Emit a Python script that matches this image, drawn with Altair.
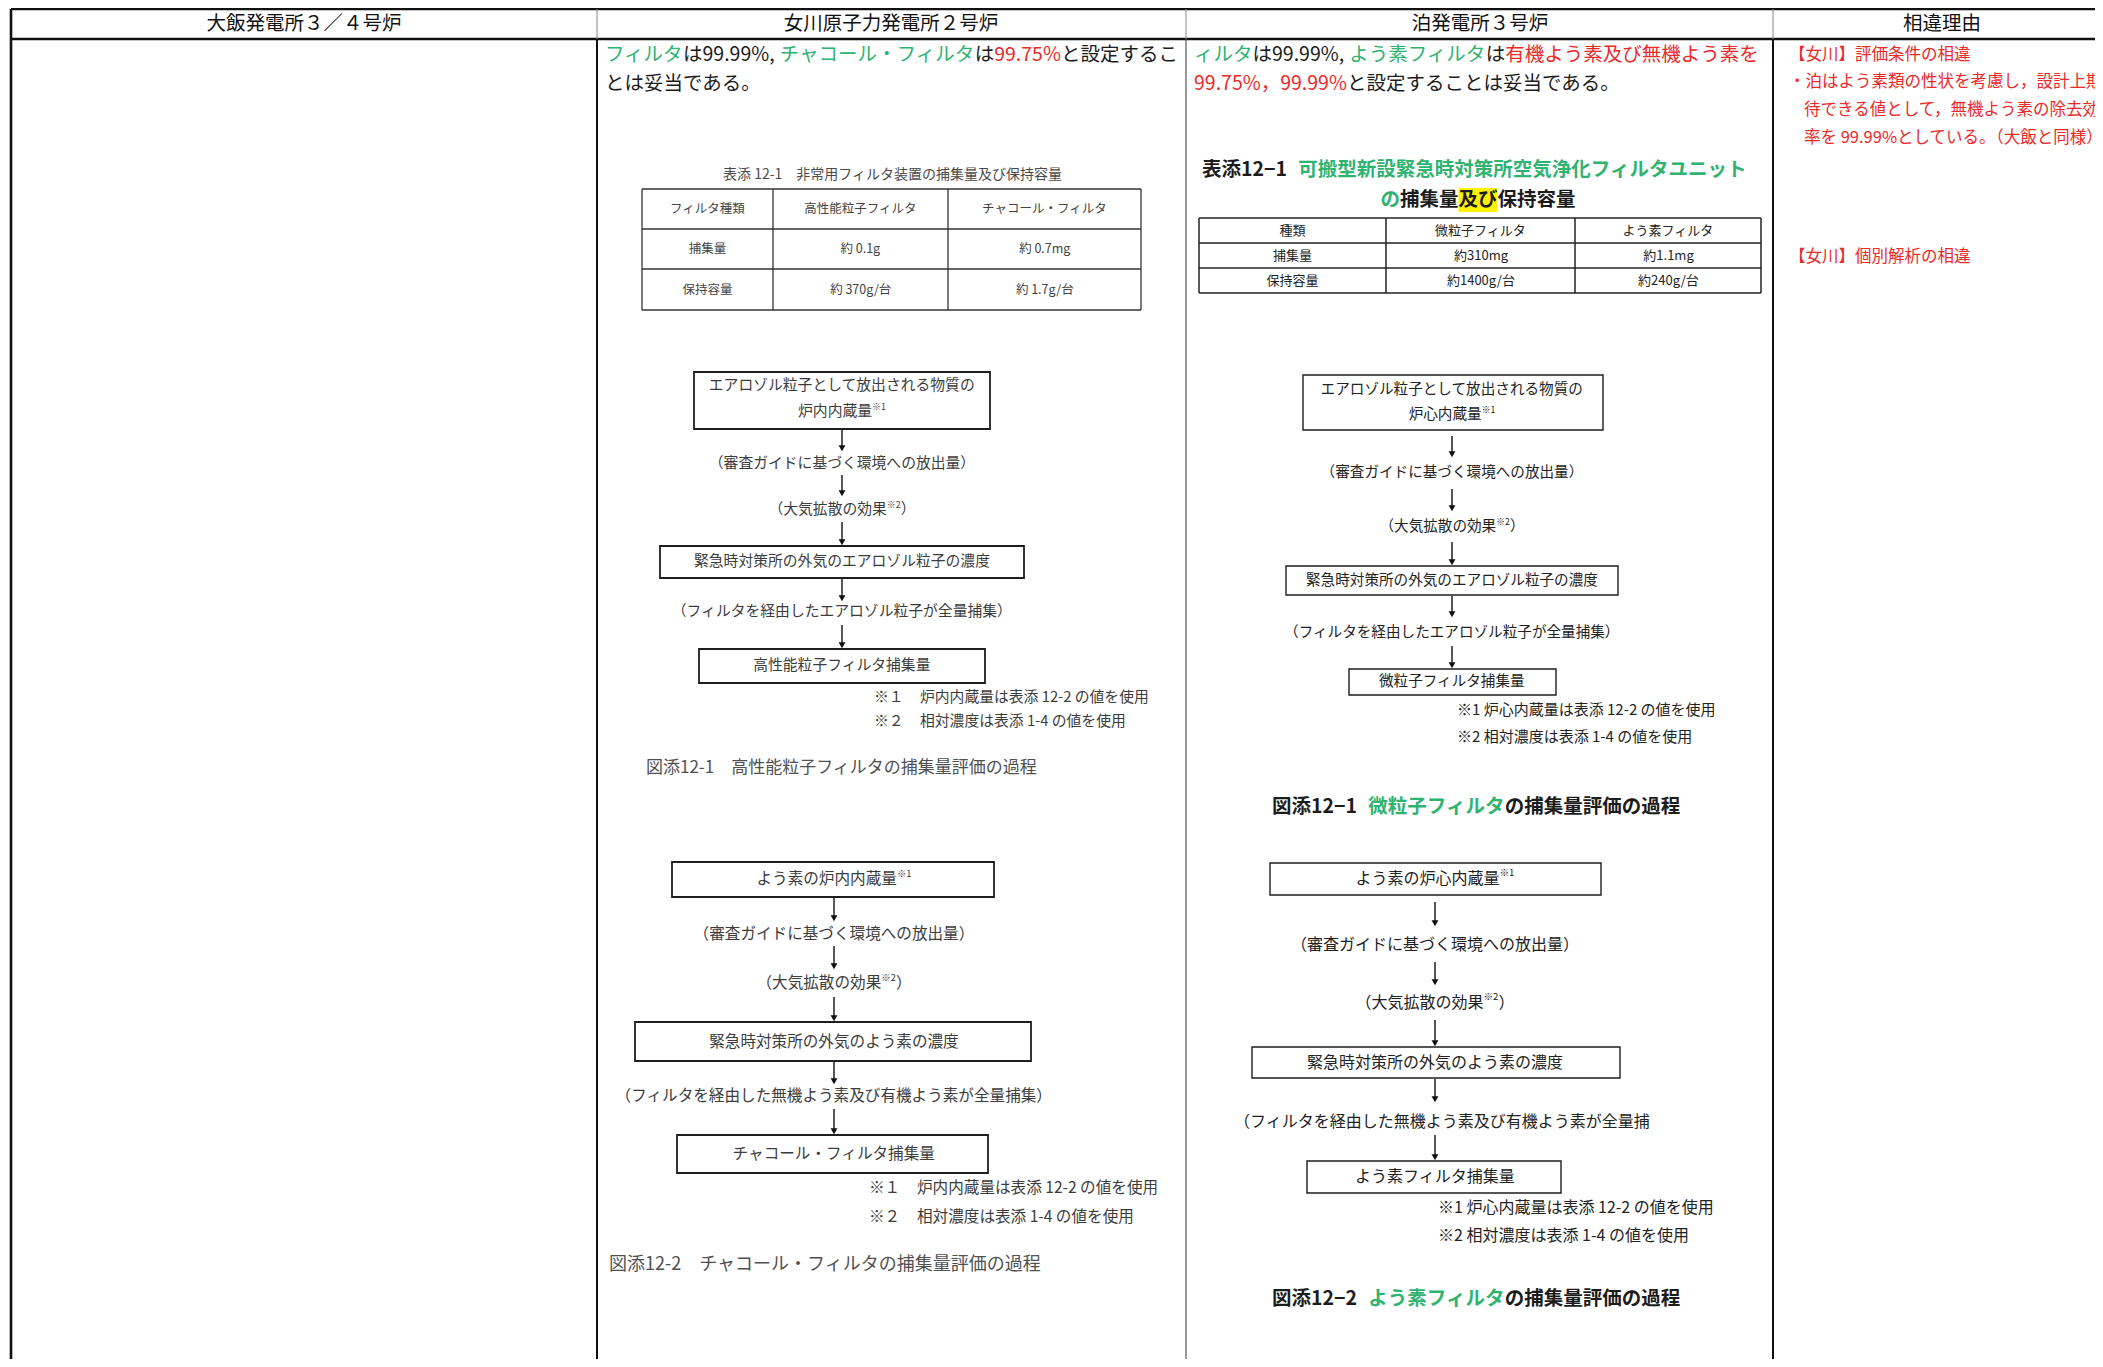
import altair as alt
import pandas as pd

# ---------------- text content ----------------
HEADERS = ["大飯発電所３／４号炉", "女川原子力発電所２号炉", "泊発電所３号炉", "相違理由"]

ONAGAWA_LINE1 = [("フィルタ", "g"), ("は99.99%, ", "k"), ("チャコール・フィルタ", "g"),
                 ("は", "k"), ("99.75%", "r"), ("と設定するこ", "k")]
ONAGAWA_LINE2 = [("とは妥当である。", "k")]
TOMARI_LINE1 = [("ィルタ", "g"), ("は99.99%, ", "k"), ("よう素フィルタ", "g"), ("は", "k"),
                ("有機よう素及び無機よう素を", "r")]
TOMARI_LINE2 = [("99.75%，99.99%", "r"), ("と設定することは妥当である。", "k")]

REASONS = ["【女川】評価条件の相違",
           "・泊はよう素類の性状を考慮し，設計上期",
           "待できる値として，無機よう素の除去効",
           "率を 99.99%としている。（大飯と同様）",
           "【女川】個別解析の相違"]

ONAGAWA_TABLE_TITLE = "表添 12-1　非常用フィルタ装置の捕集量及び保持容量"
ONAGAWA_TABLE = [["フィルタ種類", "高性能粒子フィルタ", "チャコール・フィルタ"],
                 ["捕集量", "約 0.1g", "約 0.7mg"],
                 ["保持容量", "約 370g/台", "約 1.7g/台"]]
TOMARI_TABLE_TITLE1 = [("表添12−1 ", "k"), ("可搬型新設緊急時対策所空気浄化フィルタユニット", "g")]
TOMARI_TABLE_TITLE2 = [("の", "g"), ("捕集量", "k"), ("及び", "k"), ("保持容量", "k")]
TOMARI_TABLE = [["種類", "微粒子フィルタ", "よう素フィルタ"],
                ["捕集量", "約310mg", "約1.1mg"],
                ["保持容量", "約1400g/台", "約240g/台"]]

FLOW_ON1 = [["エアロゾル粒子として放出される物質の", "炉内内蔵量"],
            "（審査ガイドに基づく環境への放出量）", "（大気拡散の効果",
            "緊急時対策所の外気のエアロゾル粒子の濃度",
            "（フィルタを経由したエアロゾル粒子が全量捕集）", "高性能粒子フィルタ捕集量"]
FLOW_ON2 = [["よう素の炉内内蔵量"],
            "（審査ガイドに基づく環境への放出量）", "（大気拡散の効果",
            "緊急時対策所の外気のよう素の濃度",
            "（フィルタを経由した無機よう素及び有機よう素が全量捕集）", "チャコール・フィルタ捕集量"]
FLOW_TO1 = [["エアロゾル粒子として放出される物質の", "炉心内蔵量"],
            "（審査ガイドに基づく環境への放出量）", "（大気拡散の効果",
            "緊急時対策所の外気のエアロゾル粒子の濃度",
            "（フィルタを経由したエアロゾル粒子が全量捕集）", "微粒子フィルタ捕集量"]
FLOW_TO2 = [["よう素の炉心内蔵量"],
            "（審査ガイドに基づく環境への放出量）", "（大気拡散の効果",
            "緊急時対策所の外気のよう素の濃度",
            "（フィルタを経由した無機よう素及び有機よう素が全量捕", "よう素フィルタ捕集量"]

ONAGAWA_NOTES = [("※１", "炉内内蔵量は表添 12-2 の値を使用"), ("※２", "相対濃度は表添 1-4 の値を使用")]
TOMARI_NOTES = ["※1 炉心内蔵量は表添 12-2 の値を使用", "※2 相対濃度は表添 1-4 の値を使用"]

ONAGAWA_FIG1 = "図添12-1　高性能粒子フィルタの捕集量評価の過程"
ONAGAWA_FIG2 = "図添12-2　チャコール・フィルタの捕集量評価の過程"
TOMARI_FIG1 = [("図添12−1 ", "k"), ("微粒子フィルタ", "g"), ("の捕集量評価の過程", "k")]
TOMARI_FIG2 = [("図添12−2 ", "k"), ("よう素フィルタ", "g"), ("の捕集量評価の過程", "k")]

# ---------------- styles ----------------
FONT = "Noto Sans CJK JP"
COL = {"g": "#2fb371", "r": "#ec2a2a", "k": "#1c1c1c"}
GRAY = "#3c3c3c"
RED = "#ec2a2a"

# ---------------- layout helpers ----------------
NARROW = {" ": 0.26, ".": 0.28, ",": 0.28, "%": 0.9, "-": 0.34, "/": 0.37, "m": 0.85, "g": 0.55}


def cw(ch):
    if ord(ch) < 128:
        return NARROW.get(ch, 0.56)
    return 1.0


def tw(s, size):
    return sum(cw(c) for c in s) * size


texts = []
rules = []
boxes = []
heads = []


def rich(segs, y, x=None, cx=None, weight="normal"):
    widths = [tw(t, s) for (t, c, s, dy) in segs]
    cur = x if x is not None else cx - sum(widths) / 2
    out = []
    for (t, c, s, dy), w in zip(segs, widths):
        texts.append(dict(x=cur, y=y + dy, t=t, c=c, s=s, w=weight))
        out.append((cur, w))
        cur += w
    return out


def rule(x, y, x2, y2, w, c):
    rules.append(dict(x=x, y=y, x2=x2, y2=y2, sw=w, c=c))


# ---------------- frame ----------------
rule(11, 9, 2095, 9, 2.6, "#111")
rule(11, 39, 2095, 39, 2.6, "#111")
rule(11, 9, 11, 1359, 2.6, "#111")
for sx in [597, 1186, 1773]:
    rule(sx, 9, sx, 39, 1.0, "#8a8a8a")
rule(597, 39, 597, 1359, 2.0, "#111")
rule(1186, 39, 1186, 1359, 1.2, "#555")
rule(1773, 39, 1773, 1359, 2.0, "#111")

for h, hx in zip(HEADERS, [304, 891, 1480, 1942]):
    rich([(h, "#111", 19.5, 0)], y=24, cx=hx)

# ---------------- body text ----------------
rich([(t, COL[c], 19.5, 0) for t, c in ONAGAWA_LINE1], y=55, x=605)
rich([(t, COL[c], 19.5, 0) for t, c in ONAGAWA_LINE2], y=84, x=605)
rich([(t, COL[c], 19.5, 0) for t, c in TOMARI_LINE1], y=55, x=1194)
rich([(t, COL[c], 19.5, 0) for t, c in TOMARI_LINE2], y=84, x=1194)

for line, (lx, ly) in zip(REASONS, [(1789, 55), (1789, 82), (1804, 110), (1804, 138), (1789, 257)]):
    rich([(line, RED, 16.5, 0)], y=ly, x=lx)

# ---------------- tables ----------------
def table(rows, xs, ys, size, color, lw, lc):
    for xx in xs:
        rule(xx, ys[0], xx, ys[-1], lw, lc)
    for yy in ys:
        rule(xs[0], yy, xs[-1], yy, lw, lc)
    for i, row in enumerate(rows):
        for j, cell in enumerate(row):
            rich([(cell, color, size, 0)], y=(ys[i] + ys[i + 1]) / 2, cx=(xs[j] + xs[j + 1]) / 2)


rich([(ONAGAWA_TABLE_TITLE, "#4a4a4a", 14, 0)], y=175, cx=893)
table(ONAGAWA_TABLE, [642, 773, 948, 1141], [189, 229, 269, 310], 12.5, "#444", 1.3, "#333")

rich([(t, COL[c], 19.5, 0) for t, c in TOMARI_TABLE_TITLE1], y=170, x=1202, weight="bold")
seg = rich([(t, COL[c], 19.5, 0) for t, c in TOMARI_TABLE_TITLE2], y=200, cx=1478, weight="bold")
heads.append(dict(x=seg[2][0], x2=seg[2][0] + seg[2][1], y=188, y2=212))
table(TOMARI_TABLE, [1199, 1386, 1575, 1761], [218, 243, 268, 293], 13, "#222", 1.5, "#222")

# ---------------- flowcharts ----------------
def flow(content, L, size, color, bw):
    b1, s1, s2, b2, s3, b3 = content
    cx = L["cx"]
    for key in ["box1", "box2", "box3"]:
        x0, x1, y0, y1 = L[key]
        boxes.append(dict(x=x0, x2=x1, y=y0, y2=y1, sw=bw))
    sup = size * 0.6
    for i, line in enumerate(b1):
        segs = [(line, color, size, 0)]
        if i == len(b1) - 1:
            segs.append(("※1", color, sup, -size * 0.35))
        rich(segs, y=L["b1y"][i], cx=cx)
    rich([(s1, color, size, 0)], y=L["sy"][0], cx=cx)
    rich([(s2, color, size, 0), ("※2", color, sup, -size * 0.35), ("）", color, size, 0)],
         y=L["sy"][1], cx=cx)
    x0, x1, y0, y1 = L["box2"]
    rich([(b2, color, size, 0)], y=(y0 + y1) / 2, cx=cx)
    if "s3x" in L:
        rich([(s3, color, size, 0)], y=L["sy"][2], x=L["s3x"])
    else:
        rich([(s3, color, size, 0)], y=L["sy"][2], cx=cx)
    x0, x1, y0, y1 = L["box3"]
    rich([(b3, color, size, 0)], y=(y0 + y1) / 2, cx=cx)
    for (a0, a1) in L["arrows"]:
        rule(cx, a0, cx, a1 - 3, 1.4, "#111")
        heads.append(dict(px=cx, py=a1 - 3.8))


L_ON1 = dict(cx=842, box1=(694, 990, 372, 429), b1y=[386, 412], sy=[464, 510, 612],
             box2=(660, 1024, 546, 578), box3=(699, 985, 649, 683),
             arrows=[(430, 452), (475, 497), (522, 546), (579, 602), (625, 649)])
L_ON2 = dict(cx=834, box1=(672, 994, 862, 897), b1y=[879], sy=[934, 983, 1096],
             box2=(635, 1031, 1022, 1061), box3=(677, 988, 1135, 1173),
             arrows=[(898, 922), (946, 970), (997, 1022), (1062, 1085), (1109, 1135)])
L_TO1 = dict(cx=1452, box1=(1303, 1603, 375, 430), b1y=[390, 415], sy=[473, 527, 633],
             box2=(1286, 1618, 566, 595), box3=(1349, 1556, 669, 695),
             arrows=[(436, 458), (489, 512), (542, 566), (596, 618), (646, 669)])
L_TO2 = dict(cx=1435, box1=(1270, 1601, 863, 895), b1y=[879], sy=[945, 1003, 1122], s3x=1234,
             box2=(1252, 1620, 1047, 1078), box3=(1307, 1561, 1161, 1193),
             arrows=[(902, 927), (962, 986), (1020, 1047), (1079, 1103), (1135, 1161)])

flow(FLOW_ON1, L_ON1, 14.8, GRAY, 1.8)
flow(FLOW_ON2, L_ON2, 15.6, GRAY, 1.8)
flow(FLOW_TO1, L_TO1, 14.6, "#222", 1.4)
flow(FLOW_TO2, L_TO2, 16, "#222", 1.4)

# notes
for (mark, body), ny in zip(ONAGAWA_NOTES, [698, 722]):
    rich([(mark, GRAY, 14.8, 0)], y=ny, x=874)
    rich([(body, GRAY, 14.8, 0)], y=ny, x=920)
for (mark, body), ny in zip(ONAGAWA_NOTES, [1188, 1217]):
    rich([(mark, GRAY, 15.6, 0)], y=ny, x=869)
    rich([(body, GRAY, 15.6, 0)], y=ny, x=917)
for note, ny in zip(TOMARI_NOTES, [710, 737]):
    rich([(note, "#222", 15, 0)], y=ny, x=1457)
for note, ny in zip(TOMARI_NOTES, [1208, 1236]):
    rich([(note, "#222", 16, 0)], y=ny, x=1438)

# captions
rich([(ONAGAWA_FIG1, "#505050", 17, 0)], y=768, x=646)
rich([(ONAGAWA_FIG2, "#505050", 18, 0)], y=1265, x=609)
rich([(t, COL[c], 19.5, 0) for t, c in TOMARI_FIG1], y=807, x=1272, weight="bold")
rich([(t, COL[c], 19.5, 0) for t, c in TOMARI_FIG2], y=1299, x=1272, weight="bold")

# ---------------- chart ----------------
xs = alt.Scale(domain=[8, 2095], nice=False, zero=False)
ys = alt.Scale(domain=[8, 1359], nice=False, zero=False, reverse=True)

df_text = pd.DataFrame(texts)
df_rules = pd.DataFrame(rules)
df_boxes = pd.DataFrame(boxes)
df_hl = pd.DataFrame([h for h in heads if "x2" in h])
df_heads = pd.DataFrame([h for h in heads if "px" in h])

hl = alt.Chart(df_hl).mark_rect(color="#fff200").encode(
    x=alt.X("x:Q", scale=xs, axis=None), x2="x2:Q",
    y=alt.Y("y:Q", scale=ys, axis=None), y2="y2:Q")

box_layer = alt.Chart(df_boxes).mark_rect(fill="white", stroke="#1e1e1e").encode(
    x=alt.X("x:Q", scale=xs, axis=None), x2="x2:Q",
    y=alt.Y("y:Q", scale=ys, axis=None), y2="y2:Q",
    strokeWidth=alt.StrokeWidth("sw:Q", scale=None))

rule_layer = alt.Chart(df_rules).mark_rule().encode(
    x=alt.X("x:Q", scale=xs, axis=None), x2="x2:Q",
    y=alt.Y("y:Q", scale=ys, axis=None), y2="y2:Q",
    strokeWidth=alt.StrokeWidth("sw:Q", scale=None),
    color=alt.Color("c:N", scale=None))

head_layer = alt.Chart(df_heads).mark_point(shape="triangle-down", filled=True, size=48,
                                            color="#111", opacity=1).encode(
    x=alt.X("px:Q", scale=xs, axis=None),
    y=alt.Y("py:Q", scale=ys, axis=None))


def text_layer(df, weight):
    return alt.Chart(df).mark_text(align="left", baseline="middle", font=FONT,
                                   fontWeight=weight).encode(
        x=alt.X("x:Q", scale=xs, axis=None),
        y=alt.Y("y:Q", scale=ys, axis=None),
        text="t:N",
        color=alt.Color("c:N", scale=None),
        size=alt.Size("s:Q", scale=None))


t_norm = text_layer(df_text[df_text.w == "normal"], "normal")
t_bold = text_layer(df_text[df_text.w == "bold"], "bold")

chart = alt.layer(hl, box_layer, rule_layer, head_layer, t_norm, t_bold).properties(
    width=2087, height=1351, padding=0, autosize="none", background="white"
).configure_view(stroke=None)

chart.save("out.html", embed_options={"renderer": "svg", "actions": False})
